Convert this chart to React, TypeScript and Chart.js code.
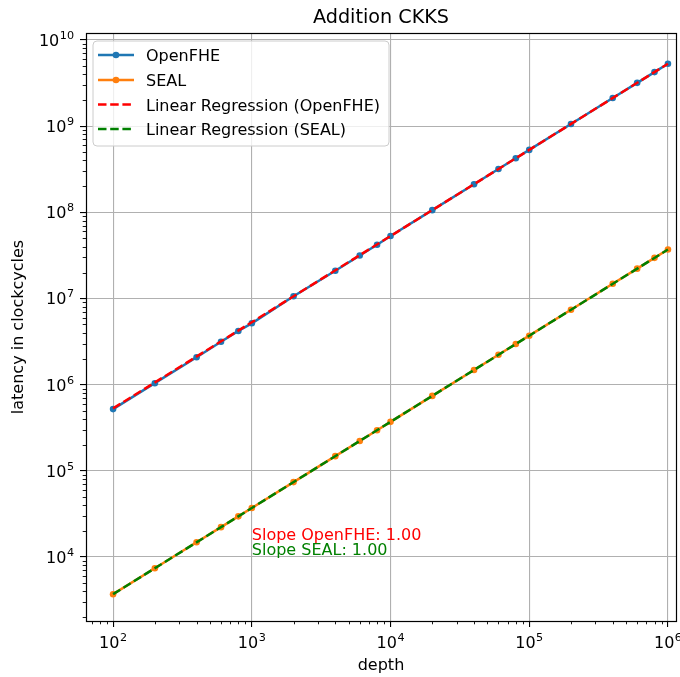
import React, { useEffect, useRef } from 'react';
import { Chart, registerables } from 'chart.js';
Chart.register(...registerables);

const depths = [100, 200, 400, 600, 800, 1000, 2000, 4000, 6000, 8000, 10000, 20000, 40000, 60000, 80000, 100000, 200000, 400000, 600000, 800000, 1000000];
const openfhe = [5.2e5, 1.04e6, 2.08e6, 3.15e6, 4.2e6, 5.15e6, 1.06e7, 2.1e7, 3.15e7, 4.2e7, 5.3e7, 1.06e8, 2.12e8, 3.18e8, 4.24e8, 5.3e8, 1.06e9, 2.12e9, 3.18e9, 4.24e9, 5.3e9];
const seal = [3.7e3, 7.4e3, 1.48e4, 2.22e4, 2.96e4, 3.7e4, 7.4e4, 1.48e5, 2.22e5, 2.96e5, 3.7e5, 7.4e5, 1.48e6, 2.22e6, 2.96e6, 3.7e6, 7.4e6, 1.48e7, 2.22e7, 2.96e7, 3.7e7];
const regX = [100, 1000000];
const regOpenFHE = [5.3e5, 5.3e9];
const regSEAL = [3.7e3, 3.7e7];
const xTicks = [1e2, 1e3, 1e4, 1e5, 1e6];
const yTicks = [1e4, 1e5, 1e6, 1e7, 1e8, 1e9, 1e10];
const legendLabels = ['OpenFHE', 'SEAL', 'Linear Regression (OpenFHE)', 'Linear Regression (SEAL)'];
const slopeLabels = ['Slope OpenFHE: 1.00', 'Slope SEAL: 1.00'];
const slopeX = 1000;
const slopeY = [1.57e4, 1.05e4];
const titleText = 'Addition CKKS';
const xTitle = 'depth';
const yTitle = 'latency in clockcycles';

const FONT = '"DejaVu Sans", sans-serif';
const FS = 16;
const SUPFS = 11.2;
const BLUE = '#1f77b4';
const ORANGE = '#ff7f0e';
const RED = '#ff0000';
const GREEN = '#008000';

function expOf(v: number) {
  return String(Math.round(Math.log10(v)));
}

// draws "10^e" ; align: 'center' | 'right' ; x anchor; baseline y
function drawPow(ctx: any, v: number, x: number, baseY: number, align: string) {
  const e = expOf(v);
  ctx.font = `${FS}px ${FONT}`;
  const wb = ctx.measureText('10').width;
  ctx.font = `${SUPFS}px ${FONT}`;
  const we = ctx.measureText(e).width;
  const total = wb + we + 0.5;
  const x0 = align === 'center' ? x - total / 2 : x - total;
  ctx.textAlign = 'left';
  ctx.textBaseline = 'alphabetic';
  ctx.fillStyle = '#000';
  ctx.font = `${FS}px ${FONT}`;
  ctx.fillText('10', x0, baseY);
  ctx.font = `${SUPFS}px ${FONT}`;
  ctx.fillText(e, x0 + wb + 0.5, baseY - 7);
}

const decor = {
  id: 'decor',
  afterDatasetsDraw(chart: any) {
    const ctx = chart.ctx;
    const xs = chart.scales.x;
    const ys = chart.scales.y;
    ctx.save();
    ctx.font = `${FS}px ${FONT}`;
    ctx.textBaseline = 'alphabetic';
    ctx.textAlign = 'left';
    const colors = [RED, GREEN];
    slopeLabels.forEach((t, i) => {
      ctx.fillStyle = colors[i];
      ctx.fillText(t, xs.getPixelForValue(slopeX), ys.getPixelForValue(slopeY[i]));
    });
    ctx.restore();
  },
  afterDraw(chart: any) {
    const ctx = chart.ctx;
    const a = chart.chartArea;
    const xs = chart.scales.x;
    const ys = chart.scales.y;
    ctx.save();
    // minor ticks
    ctx.strokeStyle = '#000';
    ctx.lineWidth = 0.9;
    ctx.beginPath();
    for (let k = 1; k <= 6; k++) {
      for (let m = 2; m <= 9; m++) {
        const v = m * Math.pow(10, k);
        if (v < xs.min || v > xs.max) continue;
        const px = Math.round(xs.getPixelForValue(v)) + 0.5;
        ctx.moveTo(px, a.bottom);
        ctx.lineTo(px, a.bottom + 3.3);
      }
    }
    for (let k = 3; k <= 10; k++) {
      for (let m = 2; m <= 9; m++) {
        const v = m * Math.pow(10, k);
        if (v < ys.min || v > ys.max) continue;
        const py = Math.round(ys.getPixelForValue(v)) + 0.5;
        ctx.moveTo(a.left - 3.3, py);
        ctx.lineTo(a.left, py);
      }
    }
    ctx.stroke();
    // tick labels
    xTicks.forEach((v) => drawPow(ctx, v, xs.getPixelForValue(v), a.bottom + 27, 'center'));
    yTicks.forEach((v) => drawPow(ctx, v, a.left - 12, ys.getPixelForValue(v) + 6, 'right'));
    // frame
    ctx.lineWidth = 1.2;
    ctx.strokeStyle = '#000';
    ctx.strokeRect(Math.round(a.left) + 0.5, Math.round(a.top) + 0.5, Math.round(a.right - a.left), Math.round(a.bottom - a.top));
    // title
    ctx.fillStyle = '#000';
    ctx.textAlign = 'center';
    ctx.textBaseline = 'alphabetic';
    ctx.font = `19.2px ${FONT}`;
    ctx.fillText(titleText, (a.left + a.right) / 2, 23);
    ctx.font = `${FS}px ${FONT}`;
    ctx.fillText(xTitle, (a.left + a.right) / 2, 670);
    ctx.save();
    ctx.translate(23, (a.top + a.bottom) / 2);
    ctx.rotate(-Math.PI / 2);
    ctx.fillText(yTitle, 0, 0);
    ctx.restore();
    // legend
    const lx = 93, ly = 41, lw = 296, lh = 105;
    ctx.beginPath();
    const r = 4;
    ctx.moveTo(lx + r, ly);
    ctx.lineTo(lx + lw - r, ly);
    ctx.arcTo(lx + lw, ly, lx + lw, ly + r, r);
    ctx.lineTo(lx + lw, ly + lh - r);
    ctx.arcTo(lx + lw, ly + lh, lx + lw - r, ly + lh, r);
    ctx.lineTo(lx + r, ly + lh);
    ctx.arcTo(lx, ly + lh, lx, ly + lh - r, r);
    ctx.lineTo(lx, ly + r);
    ctx.arcTo(lx, ly, lx + r, ly, r);
    ctx.closePath();
    ctx.fillStyle = 'rgba(255,255,255,0.8)';
    ctx.fill();
    ctx.strokeStyle = '#cccccc';
    ctx.lineWidth = 1;
    ctx.stroke();
    const rows = [55, 80, 104.5, 129];
    const lcol = [BLUE, ORANGE, RED, GREEN];
    rows.forEach((yy, i) => {
      ctx.strokeStyle = lcol[i];
      ctx.lineWidth = 2.4;
      ctx.setLineDash(i >= 2 ? [8.5, 3.7] : []);
      ctx.beginPath();
      ctx.moveTo(98, yy);
      ctx.lineTo(134, yy);
      ctx.stroke();
      ctx.setLineDash([]);
      if (i < 2) {
        ctx.fillStyle = lcol[i];
        ctx.beginPath();
        ctx.arc(116, yy, 3.3, 0, Math.PI * 2);
        ctx.fill();
      }
      ctx.fillStyle = '#000';
      ctx.textAlign = 'left';
      ctx.textBaseline = 'alphabetic';
      ctx.font = `${FS}px ${FONT}`;
      ctx.fillText(legendLabels[i], 146, yy + 6);
    });
    ctx.restore();
  },
};

export default function App() {
  const ref = useRef<HTMLCanvasElement>(null);
  useEffect(() => {
    document.body.style.margin = '0';
    const canvas = ref.current!;
    const chart = new Chart(canvas, {
      type: 'line',
      data: {
        datasets: [
          {
            label: legendLabels[0],
            data: depths.map((d, i) => ({ x: d, y: openfhe[i] })),
            borderColor: BLUE,
            backgroundColor: BLUE,
            borderWidth: 2.5,
            pointRadius: 3.3,
            pointBorderWidth: 0,
            order: 2,
          },
          {
            label: legendLabels[1],
            data: depths.map((d, i) => ({ x: d, y: seal[i] })),
            borderColor: ORANGE,
            backgroundColor: ORANGE,
            borderWidth: 2.5,
            pointRadius: 3.3,
            pointBorderWidth: 0,
            order: 2,
          },
          {
            label: legendLabels[2],
            data: regX.map((d, i) => ({ x: d, y: regOpenFHE[i] })),
            borderColor: RED,
            borderWidth: 2.5,
            borderDash: [8.5, 3.7],
            pointRadius: 0,
            order: 1,
          },
          {
            label: legendLabels[3],
            data: regX.map((d, i) => ({ x: d, y: regSEAL[i] })),
            borderColor: GREEN,
            borderWidth: 2.5,
            borderDash: [8.5, 3.7],
            pointRadius: 0,
            order: 0,
          },
        ],
      },
      options: {
        animation: false,
        responsive: false,
        devicePixelRatio: 1,
        layout: { padding: { left: 0, right: 4, top: 33, bottom: 0 } },
        plugins: { legend: { display: false }, title: { display: false }, tooltip: { enabled: false } },
        events: [],
        scales: {
          x: {
            type: 'logarithmic',
            min: 63.8,
            max: 1.143e6,
            afterBuildTicks: (s: any) => {
              s.ticks = xTicks.map((v) => ({ value: v }));
            },
            afterFit: (s: any) => {
              s.height = 56;
            },
            ticks: { display: false, autoSkip: false },
            grid: { color: '#b0b0b0', lineWidth: 1.1, tickColor: '#000', tickLength: 6, drawTicks: true },
            border: { display: false },
          },
          y: {
            type: 'logarithmic',
            min: 1807,
            max: 1.205e10,
            afterBuildTicks: (s: any) => {
              s.ticks = yTicks.map((v) => ({ value: v }));
            },
            afterFit: (s: any) => {
              s.width = 86;
            },
            ticks: { display: false, autoSkip: false },
            grid: { color: '#b0b0b0', lineWidth: 1.1, tickColor: '#000', tickLength: 6, drawTicks: true },
            border: { display: false },
          },
        },
      },
      plugins: [decor],
    } as any);
    return () => chart.destroy();
  }, []);
  return (
    <div style={{ width: 680, height: 677 }}>
      <canvas ref={ref} width={680} height={677} style={{ display: 'block' }} />
    </div>
  );
}
